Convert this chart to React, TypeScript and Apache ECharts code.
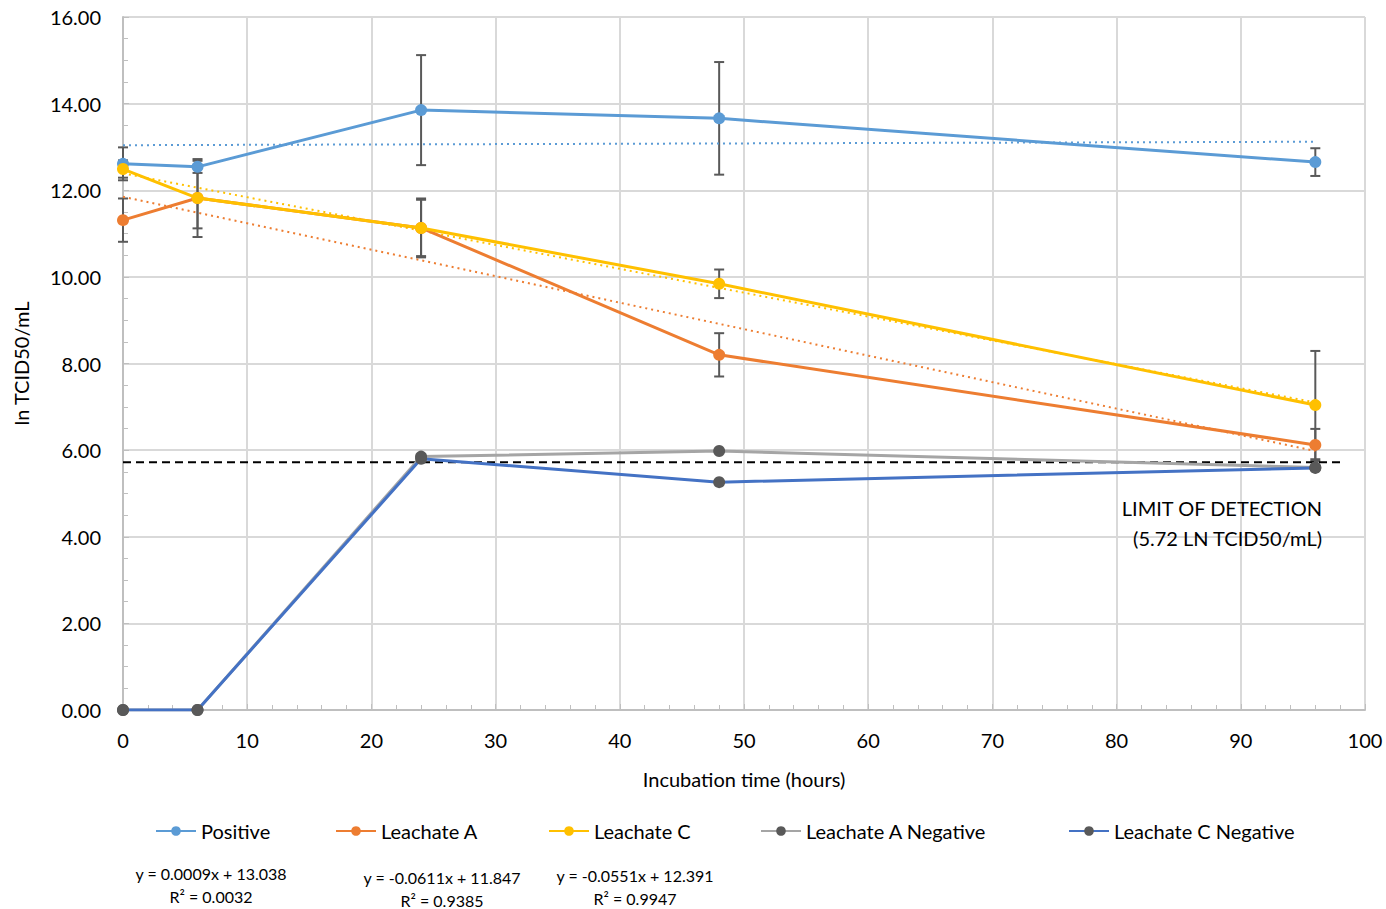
import React, { useEffect, useRef } from "react";
import * as echarts from "echarts";

const hours = [0, 6, 24, 48, 96];
const positive = [12.61, 12.54, 13.85, 13.66, 12.65];
const positiveErr = [0.38, 0.14, 1.27, 1.3, 0.32];
const leachateA = [11.31, 11.82, 11.13, 8.2, 6.12];
const leachateAErr = [0.5, 0.9, 0.68, 0.5, 0.37];
const leachateC = [12.49, 11.82, 11.13, 9.84, 7.04];
const leachateCErr = [0.2, 0.7, 0.65, 0.33, 1.25];
const negativeA = [0, 0, 5.85, 5.98, 5.6];
const negativeC = [0, 0, 5.8, 5.26, 5.59];

const trendX = [0, 96];
const positiveTrend = [13.04, 13.12];
const leachateATrend = [11.85, 5.98];
const leachateCTrend = [12.39, 7.1];

const lodX = [0, 98];
const lodValue = 5.72;
const lodLines = ["LIMIT OF DETECTION", "(5.72 LN TCID50/mL)"];

const equations = [
  { eq: "y = 0.0009x + 13.038", r2: "R² = 0.0032", x: 211, y: 873 },
  { eq: "y = -0.0611x + 11.847", r2: "R² = 0.9385", x: 442, y: 877 },
  { eq: "y = -0.0551x + 12.391", r2: "R² = 0.9947", x: 635, y: 875 },
];

const FONT = "Lato, 'Open Sans', sans-serif";
const C_POS = "#5B9BD5";
const C_A = "#ED7D31";
const C_C = "#FFC000";
const C_NA = "#A5A5A5";
const C_NC = "#4472C4";
const C_MARK = "#595959";

function pairs(xs: number[], ys: number[]) {
  return xs.map((x, i) => [x, ys[i]]);
}

function errData(ys: number[], es: number[]) {
  return hours.map((x, i) => [x, ys[i], es[i]]);
}

function errSeries(ys: number[], es: number[]) {
  return {
    type: "custom",
    silent: true,
    z: 1,
    data: errData(ys, es),
    renderItem: (params: any, api: any) => {
      const x = api.value(0);
      const y = api.value(1);
      const e = api.value(2);
      const top = api.coord([x, y + e]);
      const bot = api.coord([x, y - e]);
      const hw = 5;
      const style = { stroke: "#595959", lineWidth: 2 };
      return {
        type: "group",
        children: [
          { type: "line", shape: { x1: top[0], y1: top[1], x2: bot[0], y2: bot[1] }, style },
          { type: "line", shape: { x1: top[0] - hw, y1: top[1], x2: top[0] + hw, y2: top[1] }, style },
          { type: "line", shape: { x1: bot[0] - hw, y1: bot[1], x2: bot[0] + hw, y2: bot[1] }, style },
        ],
      };
    },
  };
}

function mainSeries(name: string, ys: number[], lineColor: string, markColor: string, z = 3) {
  return {
    name,
    type: "line",
    z,
    data: pairs(hours, ys),
    symbol: "circle",
    symbolSize: 12,
    lineStyle: { color: lineColor, width: 3 },
    itemStyle: { color: markColor },
  };
}

function trendSeries(ys: number[], color: string) {
  return {
    type: "line",
    silent: true,
    z: 2,
    data: pairs(trendX, ys),
    symbol: "none",
    lineStyle: { color, width: 2, type: [2, 4] },
  };
}

export default function App() {
  const ref = useRef<HTMLDivElement>(null);
  useEffect(() => {
    if (!ref.current) return;
    const chart = echarts.init(ref.current, undefined, { renderer: "svg" });
    const legendBase = {
      top: 816,
      itemWidth: 40,
      itemHeight: 12,
      textStyle: { fontFamily: FONT, fontSize: 20, color: "#000" },
      itemGap: 4,
    };
    const textStyle = (size: number) => ({ fontFamily: FONT, fontSize: size, fill: "#000" });
    const option: any = {
      animation: false,
      backgroundColor: "#fff",
      textStyle: { fontFamily: FONT },
      grid: { left: 123, right: 21, top: 17, bottom: 199, containLabel: false, outerBoundsMode: "none" },
      legend: [
        { ...legendBase, left: 150, data: ["Positive"] },
        { ...legendBase, left: 330, data: ["Leachate A"] },
        { ...legendBase, left: 543, data: ["Leachate C"] },
        { ...legendBase, left: 755, data: ["Leachate A Negative"] },
        { ...legendBase, left: 1063, data: ["Leachate C Negative"] },
      ],
      xAxis: {
        type: "value",
        min: 0,
        max: 100,
        interval: 10,
        name: "Incubation time (hours)",
        nameLocation: "middle",
        nameGap: 59,
        nameTextStyle: { fontFamily: FONT, fontSize: 20, color: "#000" },
        axisLine: { show: true, lineStyle: { color: "#BFBFBF", width: 2 } },
        axisTick: { show: true, inside: true, length: 6, lineStyle: { color: "#BFBFBF" } },
        minorTick: { show: true, splitNumber: 5, length: 5, lineStyle: { color: "#BFBFBF" } },
        axisLabel: { fontFamily: FONT, fontSize: 20, color: "#000", margin: 20 },
        splitLine: { show: true, lineStyle: { color: "#D9D9D9", width: 2 } },
      },
      yAxis: {
        type: "value",
        min: 0,
        max: 16,
        interval: 2,
        name: "ln TCID50/mL",
        nameLocation: "middle",
        nameGap: 92,
        nameTextStyle: { fontFamily: FONT, fontSize: 20, color: "#000" },
        axisLine: { show: true, lineStyle: { color: "#BFBFBF", width: 2 } },
        axisTick: { show: true, inside: true, length: 6, lineStyle: { color: "#BFBFBF" } },
        minorTick: { show: true, splitNumber: 4, length: 5, lineStyle: { color: "#BFBFBF" } },
        axisLabel: {
          fontFamily: FONT,
          fontSize: 20,
          color: "#000",
          margin: 22,
          formatter: (v: number) => v.toFixed(2),
        },
        splitLine: { show: true, lineStyle: { color: "#D9D9D9", width: 2 } },
      },
      series: [
        errSeries(positive, positiveErr),
        errSeries(leachateA, leachateAErr),
        errSeries(leachateC, leachateCErr),
        trendSeries(positiveTrend, C_POS),
        trendSeries(leachateATrend, C_A),
        trendSeries(leachateCTrend, C_C),
        {
          type: "line",
          silent: true,
          z: 2,
          data: pairs(lodX, [lodValue, lodValue]),
          symbol: "none",
          lineStyle: { color: "#000", width: 2, type: [8, 5] },
        },
        mainSeries("Positive", positive, C_POS, C_POS, 4),
        mainSeries("Leachate A", leachateA, C_A, C_A, 4),
        mainSeries("Leachate C", leachateC, C_C, C_C, 5),
        mainSeries("Leachate A Negative", negativeA, C_NA, C_MARK, 3),
        mainSeries("Leachate C Negative", negativeC, C_NC, C_MARK, 3),
      ],
      graphic: [
        ...lodLines.map((t, i) => ({
          type: "text",
          x: 1322,
          y: 508 + i * 30,
          z: 10,
          style: { ...textStyle(20), text: t, align: "right", verticalAlign: "middle" },
        })),
        ...equations.flatMap((e) => [
          {
            type: "text",
            x: e.x,
            y: e.y,
            style: { ...textStyle(16), text: e.eq, align: "center", verticalAlign: "middle" },
          },
          {
            type: "text",
            x: e.x,
            y: e.y + 23,
            style: { ...textStyle(16), text: e.r2, align: "center", verticalAlign: "middle" },
          },
        ]),
      ],
    };
    chart.setOption(option);
    return () => chart.dispose();
  }, []);
  return (
    <div
      ref={ref}
      style={{ position: "fixed", left: 0, top: 0, width: 1386, height: 909, background: "#fff" }}
    />
  );
}
